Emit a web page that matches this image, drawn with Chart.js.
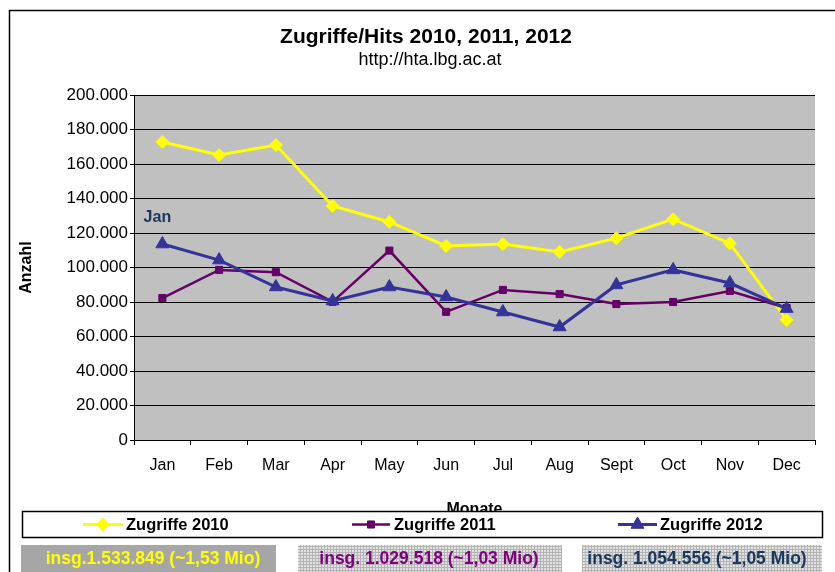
<!DOCTYPE html>
<html>
<head>
<meta charset="utf-8">
<title>Zugriffe/Hits 2010, 2011, 2012</title>
<script src="https://cdn.jsdelivr.net/npm/chart.js@4.4.0/dist/chart.umd.min.js"></script>
<style>
  html, body { margin: 0; padding: 0; background: #fff; }
  #wrap { width: 835px; height: 572px; }
</style>
</head>
<body>
<div id="wrap"><canvas id="hitsChart" width="835" height="572"></canvas></div>
<script>
// data
const months = ["Jan", "Feb", "Mar", "Apr", "May", "Jun", "Jul", "Aug", "Sept", "Oct", "Nov", "Dec"];
const hits2010 = [172800, 165200, 171000, 135700, 126400, 112500, 113600, 109000, 117000, 128000, 114000, 69600];
const hits2011 = [82300, 98600, 97300, 80100, 109800, 74300, 87000, 84600, 78800, 80000, 86400, 76500];
const hits2012 = [113600, 104300, 88700, 80600, 88700, 82900, 74200, 65500, 89900, 98600, 91000, 76200];
const yTicks = [0, 20000, 40000, 60000, 80000, 100000, 120000, 140000, 160000, 180000, 200000];
const seriesNames = ["Zugriffe 2010", "Zugriffe 2011", "Zugriffe 2012"];
const yearTotals = ["insg.1.533.849 (~1,53 Mio)", "insg. 1.029.518 (~1,03 Mio)", "insg. 1.054.556 (~1,05 Mio)"];

const FONT = "'Liberation Sans', Arial, sans-serif";

function fmt(v) {
  return String(v).replace(/\B(?=(\d{3})+(?!\d))/g, ".");
}

// light grey grid pattern for the total boxes
function greyPattern(ctx) {
  let p = document.createElement("canvas");
  p.width = 3;
  p.height = 3;
  let pc = p.getContext("2d");
  pc.fillStyle = "#e2e2e2";
  pc.fillRect(0, 0, 3, 3);
  pc.fillStyle = "#b4b4b4";
  pc.fillRect(0, 0, 3, 1);
  pc.fillRect(0, 0, 1, 3);
  return ctx.createPattern(p, "repeat");
}

const decor = {
  id: "decor",
  beforeDraw(chart) {
    const c = chart.ctx, a = chart.chartArea;
    c.save();
    c.fillStyle = "#c0c0c0";
    c.fillRect(a.left, a.top, a.right - a.left, a.bottom - a.top);
    c.restore();
  },
  afterDraw(chart) {
    const c = chart.ctx;
    c.save();

    // outer frame (top + left)
    c.strokeStyle = "#000";
    c.lineWidth = 1.5;
    c.beginPath();
    c.moveTo(9.5, 572);
    c.lineTo(9.5, 10.5);
    c.lineTo(835, 10.5);
    c.stroke();

    // title + subtitle
    c.fillStyle = "#000";
    c.textAlign = "center";
    c.textBaseline = "middle";
    c.font = "bold 21px " + FONT;
    c.fillText("Zugriffe/Hits 2010, 2011, 2012", 426, 37);
    c.font = "18px " + FONT;
    c.fillText("http://hta.lbg.ac.at", 430, 60);

    // data label on first 2012 point
    let p = chart.getDatasetMeta(2).data[0];
    c.fillStyle = "#17375e";
    c.font = "bold 16px " + FONT;
    c.fillText(months[0], p.x - 5, p.y - 26);

    // legend box
    c.fillStyle = "#fff";
    c.fillRect(22, 511, 801, 27);
    c.strokeStyle = "#000";
    c.lineWidth = 1.5;
    c.strokeRect(22.5, 511.5, 800, 26);
    const legendPos = [[83, 123, 126], [352, 390, 394], [618, 657, 660]];
    chart.data.datasets.forEach((ds, i) => {
      const [x0, x1, tx] = legendPos[i];
      const y = 524.5;
      c.strokeStyle = ds.borderColor;
      c.fillStyle = ds.backgroundColor;
      c.lineWidth = ds.borderWidth;
      c.beginPath();
      c.moveTo(x0, y);
      c.lineTo(x1, y);
      c.stroke();
      c.lineWidth = 1;
      Chart.helpers.drawPoint(c, { pointStyle: ds.pointStyle, radius: ds.pointRadius, borderWidth: 1, rotation: 0 }, (x0 + x1) / 2, y);
      c.fillStyle = "#000";
      c.textAlign = "left";
      c.font = "bold 16.5px " + FONT;
      c.fillText(ds.label, tx, y + 0.5);
    });

    // yearly totals
    const boxes = [[21, 276, "#a6a6a6", "#ffff00", 153], [298, 562, greyPattern(c), "#800080", 429], [582, 822, greyPattern(c), "#17375e", 697]];
    boxes.forEach((b, i) => {
      c.fillStyle = b[2];
      c.fillRect(b[0], 545, b[1] - b[0], 27);
      c.fillStyle = b[3];
      c.textAlign = "center";
      c.font = "bold 17.5px " + FONT;
      c.fillText(yearTotals[i], b[4], 559);
    });

    c.restore();
  }
};

const ctx = document.getElementById("hitsChart");

new Chart(ctx, {
  type: "line",
  data: {
    labels: months,
    datasets: [
      {
        label: seriesNames[0],
        data: hits2010,
        borderColor: "#ffff00",
        backgroundColor: "#ffff00",
        borderWidth: 3,
        pointStyle: "rectRot",
        pointRadius: 6.5,
        pointBorderWidth: 1,
        order: 3,
      },
      {
        label: seriesNames[1],
        data: hits2011,
        borderColor: "#660066",
        backgroundColor: "#660066",
        borderWidth: 2.5,
        pointStyle: "rect",
        pointRadius: 5,
        pointBorderWidth: 1,
        order: 2,
      },
      {
        label: seriesNames[2],
        data: hits2012,
        borderColor: "#333399",
        backgroundColor: "#333399",
        borderWidth: 3,
        pointStyle: "triangle",
        pointRadius: 7.5,
        pointBorderWidth: 1,
        order: 1,
      },
    ],
  },
  options: {
    responsive: false,
    animation: false,
    events: [],
    layout: { padding: { left: 0, right: 20, top: 95, bottom: 0 } },
    plugins: {
      legend: { display: false },
      tooltip: { enabled: false },
    },
    scales: {
      x: {
        offset: true,
        grid: { offset: true, drawOnChartArea: false, tickLength: 5, color: "#000" },
        border: { color: "#000", width: 1 },
        ticks: { color: "#000", font: { family: FONT, size: 16 }, padding: 11 },
        title: {
          display: true,
          text: "Monate",
          color: "#000",
          font: { family: FONT, size: 16, weight: "bold" },
          padding: { top: 0, bottom: 53 },
        },
        afterFit(scale) { scale.height = 132; },
      },
      y: {
        min: 0,
        max: 200000,
        afterBuildTicks(scale) { scale.ticks = yTicks.map((v) => ({ value: v })); },
        grid: { color: "#000", tickLength: 4 },
        border: { color: "#000", width: 1 },
        ticks: { color: "#000", font: { family: FONT, size: 17 }, padding: 2, callback: (v) => fmt(v) },
        title: {
          display: true,
          text: "Anzahl",
          color: "#000",
          font: { family: FONT, size: 16, weight: "bold" },
          padding: { top: 17, bottom: 0 },
        },
        afterFit(scale) { scale.width = 134; },
      },
    },
  },
  plugins: [decor],
});
</script>
</body>
</html>
